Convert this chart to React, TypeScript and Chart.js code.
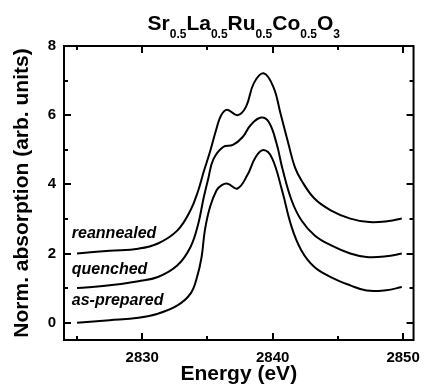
import React, { useEffect, useRef } from "react";
import { Chart, registerables } from "chart.js";

Chart.register(...registerables);

// ---- data ----
const asPreparedE = [2825.0, 2827.5, 2829.7, 2831.2, 2832.7, 2833.7, 2834.2, 2834.55, 2834.8, 2835.2, 2835.7, 2836.1, 2836.55, 2837.3, 2838.05, 2838.7, 2839.3, 2839.95, 2840.7, 2841.45, 2842.2, 2843.2, 2844.45, 2845.95, 2847.2, 2848.7, 2849.9];
const asPreparedV = [0.0, 0.07, 0.14, 0.26, 0.5, 0.84, 1.32, 1.9, 2.67, 3.35, 3.83, 3.98, 4.02, 3.88, 4.26, 4.79, 4.99, 4.76, 3.85, 2.77, 2.09, 1.61, 1.32, 1.08, 0.93, 0.94, 1.03];

const quenchedE = [2825.0, 2827.5, 2829.7, 2831.2, 2832.7, 2833.7, 2834.3, 2834.7, 2835.05, 2835.45, 2836.2, 2836.95, 2837.7, 2838.3, 2839.1, 2839.7, 2840.3, 2840.75, 2841.45, 2842.2, 2843.2, 2844.45, 2845.95, 2847.2, 2848.7, 2849.9];
const quenchedV = [1.0, 1.08, 1.2, 1.32, 1.66, 2.19, 2.87, 3.6, 4.15, 4.72, 5.08, 5.14, 5.37, 5.71, 5.93, 5.8, 5.18, 4.45, 3.54, 2.96, 2.53, 2.24, 2.0, 1.9, 1.92, 2.0];

const reannealedE = [2825.0, 2827.5, 2829.7, 2831.2, 2832.7, 2833.7, 2834.3, 2834.7, 2835.2, 2835.7, 2836.05, 2836.5, 2837.3, 2837.95, 2838.55, 2839.3, 2840.05, 2840.6, 2841.2, 2841.7, 2842.2, 2843.2, 2844.45, 2845.95, 2847.4, 2848.9, 2849.9];
const reannealedV = [2.0, 2.08, 2.14, 2.29, 2.67, 3.25, 3.83, 4.35, 4.95, 5.62, 6.0, 6.16, 6.0, 6.24, 6.92, 7.21, 6.82, 6.05, 5.18, 4.5, 4.12, 3.59, 3.25, 3.01, 2.91, 2.94, 3.01];

const seriesNames = ["as-prepared", "quenched", "reannealed"];
const xTickValues = [2830, 2840, 2850];
const xMinorValues = [2825, 2835, 2845];
const yTickValues = [0, 2, 4, 6, 8];
const yMinorValues = [1, 3, 5, 7];

const titleParts: [string, boolean][] = [
  ["Sr", false], ["0.5", true], ["La", false], ["0.5", true], ["Ru", false], ["0.5", true], ["Co", false], ["0.5", true], ["O", false], ["3", true],
];

// label anchors (energy, value) for series names
const labelAnchors: [number, number][] = [
  [2824.6, 0.5],
  [2824.6, 1.42],
  [2824.6, 2.45],
];

const FONT = "'Liberation Sans', Arial, sans-serif";

const framePlugin = {
  id: "frameTicks",
  afterDraw(chart: any) {
    const { ctx, chartArea } = chart;
    const { left, right, top, bottom } = chartArea;
    const xs = chart.scales.x;
    const ys = chart.scales.y;
    ctx.save();
    ctx.strokeStyle = "#000";
    ctx.lineWidth = 2;
    ctx.strokeRect(left, top, right - left, bottom - top);
    const major = 7;
    const minor = 4;
    ctx.beginPath();
    const xt = (v: number, len: number) => {
      const px = Math.round(xs.getPixelForValue(v));
      ctx.moveTo(px, bottom);
      ctx.lineTo(px, bottom - len);
      ctx.moveTo(px, top);
      ctx.lineTo(px, top + len);
    };
    const yt = (v: number, len: number) => {
      const py = Math.round(ys.getPixelForValue(v));
      ctx.moveTo(left, py);
      ctx.lineTo(left + len, py);
      ctx.moveTo(right, py);
      ctx.lineTo(right - len, py);
    };
    xTickValues.forEach((v) => xt(v, major));
    xMinorValues.forEach((v) => xt(v, minor));
    yTickValues.forEach((v) => yt(v, major));
    yMinorValues.forEach((v) => yt(v, minor));
    ctx.stroke();

    // series labels
    ctx.fillStyle = "#000";
    ctx.font = `italic bold 16px ${FONT}`;
    ctx.textBaseline = "alphabetic";
    ctx.textAlign = "left";
    seriesNames.forEach((name, i) => {
      const [ex, vy] = labelAnchors[i];
      ctx.fillText(name, xs.getPixelForValue(ex), ys.getPixelForValue(vy));
    });

    // title with subscripts
    const mainFont = `bold 21px ${FONT}`;
    const subFont = `bold 12px ${FONT}`;
    let total = 0;
    titleParts.forEach(([t, sub]) => {
      ctx.font = sub ? subFont : mainFont;
      total += ctx.measureText(t).width;
    });
    let x = (left + right) / 2 - total / 2 + 5;
    const baseY = 30;
    titleParts.forEach(([t, sub]) => {
      ctx.font = sub ? subFont : mainFont;
      ctx.fillText(t, x, sub ? baseY + 8 : baseY);
      x += ctx.measureText(t).width;
    });
    ctx.restore();
  },
};

export default function App() {
  const ref = useRef<HTMLCanvasElement>(null);
  useEffect(() => {
    const toPts = (e: number[], v: number[]) => e.map((x, i) => ({ x, y: v[i] }));
    const chart = new Chart(ref.current!, {
      type: "line",
      data: {
        datasets: [
          { label: seriesNames[0], data: toPts(asPreparedE, asPreparedV) },
          { label: seriesNames[1], data: toPts(quenchedE, quenchedV) },
          { label: seriesNames[2], data: toPts(reannealedE, reannealedV) },
        ].map((d) => ({
          ...d,
          borderColor: "#000",
          borderWidth: 2,
          pointRadius: 0,
          fill: false,
          tension: 0.4,
        })),
      },
      options: {
        responsive: false,
        animation: false,
        events: [],
        layout: { padding: { top: 46, right: 7, left: 0, bottom: 0 } },
        plugins: { legend: { display: false }, title: { display: false }, tooltip: { enabled: false } },
        scales: {
          x: {
            type: "linear",
            min: 2824,
            max: 2850.8,
            grid: { display: false, drawTicks: false },
            border: { display: false },
            afterBuildTicks: (s: any) => {
              s.ticks = xTickValues.map((value) => ({ value }));
            },
            afterFit: (s: any) => {
              s.height = 47;
            },
            ticks: {
              color: "#000",
              font: { family: FONT, weight: "bold", size: 15 },
              padding: 9,
              maxRotation: 0,
              callback: (v: any) => String(v),
            },
            title: {
              display: true,
              text: "Energy (eV)",
              color: "#000",
              font: { family: FONT, weight: "bold", size: 21 },
              padding: { top: 0, bottom: 0 },
            },
          },
          y: {
            type: "linear",
            min: -0.5,
            max: 8,
            grid: { display: false, drawTicks: false },
            border: { display: false },
            afterBuildTicks: (s: any) => {
              s.ticks = yTickValues.map((value) => ({ value }));
            },
            afterFit: (s: any) => {
              s.width = 64;
            },
            ticks: {
              color: "#000",
              font: { family: FONT, weight: "bold", size: 15 },
              padding: 8,
              callback: (v: any) => String(v),
            },
            title: {
              display: true,
              text: "Norm. absorption (arb. units)",
              color: "#000",
              font: { family: FONT, weight: "bold", size: 21 },
              padding: { top: 10, bottom: 0 },
            },
          },
        },
      },
      plugins: [framePlugin],
    });
    return () => chart.destroy();
  }, []);
  return (
    <div style={{ position: "fixed", left: 0, top: 0, width: 429, height: 387, background: "#fff" }}>
      <canvas ref={ref} width={429} height={387} style={{ width: 429, height: 387, display: "block" }} />
    </div>
  );
}
